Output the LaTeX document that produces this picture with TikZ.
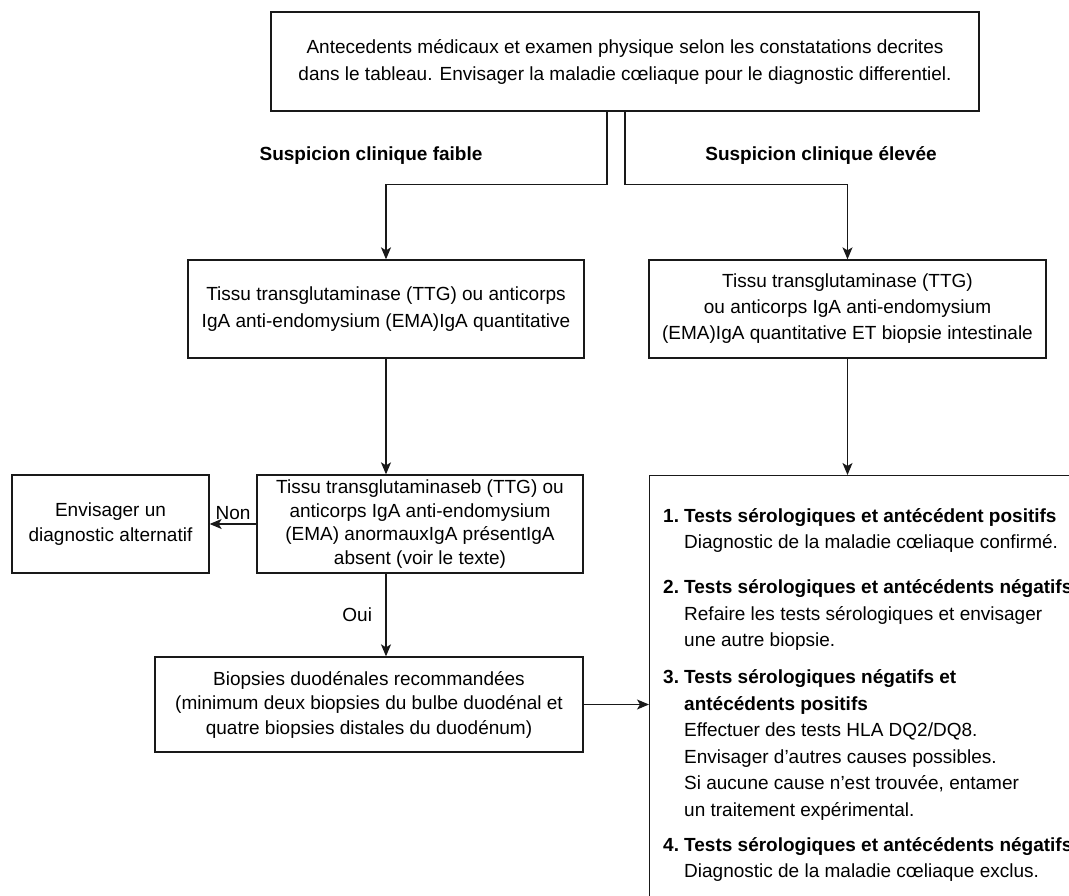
\documentclass[tikz,border=0pt]{standalone}
\usepackage{fontspec}
\setmainfont{Liberation Sans}
\usetikzlibrary{arrows.meta,positioning}
\newcommand{\resnum}[1]{\makebox[21pt][l]{#1}}
\newcommand{\resind}{\hspace*{21pt}}
\tikzset{
  box/.style = {draw=black!90, line width=1.3pt, rectangle, align=center, inner sep=0pt, font=\fontsize{19}{27}\selectfont},
  hdr/.style = {font=\fontsize{19}{23}\selectfont\bfseries},
  elbl/.style = {font=\fontsize{19}{23}\selectfont},
  arrow/.style = {line width=1.3pt, draw=black!90, -{Stealth[length=12pt,width=10pt,inset=3pt]}}
}
\begin{document}
\begin{tikzpicture}[x=1pt,y=1pt]
  \useasboundingbox (0,0) rectangle (1069,895);
  \clip (0,0) rectangle (1069,895);
  % boxes
  \node[box, minimum width=708pt, minimum height=99pt] (hist) at (625,833.5)
    {Antecedents médicaux et examen physique selon les constatations decrites\\dans le tableau. Envisager la maladie cœliaque pour le diagnostic differentiel.};
  \node[hdr] (faible) at (371,739) {Suspicion clinique faible};
  \node[hdr] (elevee) at (821,739) {Suspicion clinique élevée};
  \node[box, minimum width=396pt, minimum height=98pt] (ttgL) at (386,586)
    {Tissu transglutaminase (TTG) ou anticorps\\IgA anti-endomysium (EMA)IgA quantitative};
  \node[box, minimum width=397pt, minimum height=98pt, font=\fontsize{19}{26}\selectfont] (ttgR) at (847.5,586)
    {Tissu transglutaminase (TTG)\\ou anticorps IgA anti-endomysium\\(EMA)IgA quantitative ET biopsie intestinale};
  \node[box, minimum width=326pt, minimum height=98pt, font=\fontsize{19}{23.5}\selectfont] (anorm) at (420,371)
    {Tissu transglutaminaseb (TTG) ou\\anticorps IgA anti-endomysium\\(EMA) anormauxIgA présentIgA\\absent (voir le texte)};
  \node[box, minimum width=197pt, minimum height=98pt, font=\fontsize{19}{25}\selectfont] (alt) at (110.5,371)
    {Envisager un\\diagnostic alternatif};
  \node[box, minimum width=428pt, minimum height=95pt, font=\fontsize{19}{24.5}\selectfont] (biop) at (369,190.5)
    {Biopsies duodénales recommandées\\(minimum deux biopsies du bulbe duodénal et\\quatre biopsies distales du duodénum)};
  \node[box, anchor=north west, minimum width=480pt, minimum height=480pt] (res) at (649,420) {};
  \node[anchor=north west, inner sep=0pt, align=left, font=\fontsize{19}{26.5}\selectfont] (reslist)
    at ([xshift=14pt,yshift=-33pt]res.north west)
    {{\bfseries\resnum{1.}Tests sérologiques et antécédent positifs}\\
     \resind Diagnostic de la maladie cœliaque confirmé.\\[18.5pt]
     {\bfseries\resnum{2.}Tests sérologiques et antécédents négatifs}\\
     \resind Refaire les tests sérologiques et envisager\\
     \resind une autre biopsie.\\[10.5pt]
     {\bfseries\resnum{3.}Tests sérologiques négatifs et}\\
     {\bfseries\resind antécédents positifs}\\
     \resind Effectuer des tests HLA DQ2/DQ8.\\
     \resind Envisager d’autres causes possibles.\\
     \resind Si aucune cause n’est trouvée, entamer\\
     \resind un traitement expérimental.\\[8.5pt]
     {\bfseries\resnum{4.}Tests sérologiques et antécédents négatifs}\\
     \resind Diagnostic de la maladie cœliaque exclus.};
  % connectors
  \draw[arrow] ([xshift=-18pt]hist.south) |- ([yshift=75pt]ttgL.north) -- (ttgL.north);
  \draw[arrow] (hist.south) |- ([yshift=75pt]ttgR.north) -- (ttgR.north);
  \draw[arrow] (ttgL.south) -- (ttgL.south |- anorm.north);
  \draw[arrow] (ttgR.south) -- (ttgR.south |- res.north);
  \draw[arrow] (anorm.west) -- node[elbl, above] {Non} (alt.east);
  \draw[arrow] (ttgL.south |- anorm.south) -- node[elbl, left, xshift=-10pt] {Oui} (ttgL.south |- biop.north);
  \draw[arrow] (biop.east) -- (biop.east -| res.west);
\end{tikzpicture}
\end{document}
